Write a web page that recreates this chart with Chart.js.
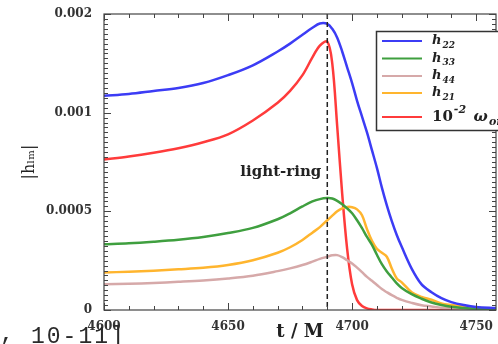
<!DOCTYPE html>
<html>
<head>
<meta charset="utf-8">
<script src="https://cdn.jsdelivr.net/npm/chart.js@4"></script>
<style>
	body { margin: 0; background: #fff; overflow: hidden; }
	canvas { display: block; }
</style>
</head>
<body>
<canvas id="modeChart" width="498" height="344"></canvas>
<script>
	// time grid (t / M) and the mode amplitudes
	var tGrid = [4600, 4610, 4620, 4630, 4640, 4650, 4660, 4670, 4675, 4680, 4684, 4687, 4690, 4692, 4694, 4696, 4698, 4700,
		4702, 4704, 4706, 4708, 4710, 4712, 4714, 4716, 4718, 4720, 4724, 4728, 4732, 4736, 4740, 4745, 4750, 4758];

	var h22 = [0.001086, 0.001095, 0.00111, 0.001125, 0.00115, 0.00119, 0.00124, 0.00131, 0.00135, 0.001395, 0.00143, 0.001452,
		0.00145, 0.001425, 0.00138, 0.00131, 0.00123, 0.00115, 0.00106, 0.00098, 0.0009, 0.00081, 0.00072, 0.00062,
		0.00053, 0.00045, 0.00038, 0.00032, 0.00021, 0.00013, 0.00009, 0.00006, 0.00004, 0.000025, 0.000015, 0.00001];
	var h33 = [0.000333, 0.000338, 0.000346, 0.000356, 0.00037, 0.00039, 0.000416, 0.00046, 0.00049, 0.000525, 0.00055, 0.000562,
		0.000567, 0.000565, 0.000553, 0.000536, 0.000515, 0.00049, 0.000455, 0.000415, 0.00037, 0.00033, 0.00028, 0.000232,
		0.000195, 0.000165, 0.000135, 0.000112, 0.00008, 0.000057, 0.000038, 0.000025, 0.000016, 0.00001, 0.000006, 0.000003];
	var h44 = [0.00013, 0.000133, 0.000137, 0.000143, 0.00015, 0.00016, 0.000174, 0.000197, 0.000211, 0.000228, 0.000245, 0.000259,
		0.00027, 0.000277, 0.000278, 0.000268, 0.000252, 0.000236, 0.000215, 0.000192, 0.000168, 0.000148, 0.000127, 0.000106,
		0.00009, 0.000075, 0.000062, 0.000051, 0.000036, 0.000024, 0.000018, 0.000012, 0.000009, 0.000006, 0.000004, 0.000003];
	var h21 = [0.00019, 0.000194, 0.000199, 0.000206, 0.000214, 0.000228, 0.000252, 0.00029, 0.000318, 0.000355, 0.000392, 0.00042,
		0.000455, 0.000478, 0.0005, 0.000515, 0.000522, 0.000521, 0.00051, 0.00048, 0.00041, 0.00035, 0.00031, 0.00029,
		0.00027, 0.00021, 0.00016, 0.00014, 0.00009, 0.000066, 0.000052, 0.000033, 0.000025, 0.000018, 0.000012, 0.000006];
	var omegaOrb = [0.000763, 0.000778, 0.000797, 0.00082, 0.00085, 0.00089, 0.00096, 0.00105, 0.00111, 0.00119, 0.00128, 0.00134,
		0.00136, 0.00125, 0.00093, 0.00059, 0.00031, 0.00013, 0.00005, 0.00002, 0.000008, 0.000003, 0, 0,
		0, 0, 0, 0, 0, 0, 0, 0, 0, 0, 0, 0];

	var seriesLabels = ["h_22", "h_33", "h_44", "h_21", "10^-2 ω_orb"];
	var seriesColors = ["#3c3cf5", "#3f9f3f", "#d6a9a9", "#ffb52e", "#ff3b3b"];

	var xTickValues = [4600, 4650, 4700, 4750];
	var xTickLabels = ["4600", "4650", "4700", "4750"];
	var yTickValues = [0, 0.0005, 0.001, 0.0015];
	var yTickLabels = ["0", "0.0005", "0.001", "0.002"];

	var lightRingT = 4690;
	var lightRingTextY = 0.0007;

	function makePoints(ys){
		var pts = [];
		for(var i=0; i<tGrid.length; i++){
			pts.push({x: tGrid[i], y: ys[i]});
		}
		return pts;
	}

	// frame, inward ticks on all four sides, light-ring marker
	var framePlugin = {
		id: "frame",
		afterDatasetsDraw: function(chart){
			var ctx = chart.ctx;
			var a = chart.chartArea;
			var xs = chart.scales.x, ys = chart.scales.y;
			ctx.save();

			// dashed light-ring line
			var lx = xs.getPixelForValue(lightRingT);
			ctx.strokeStyle = "#222";
			ctx.lineWidth = 1.5;
			ctx.setLineDash([5, 3]);
			ctx.beginPath();
			ctx.moveTo(lx, a.top);
			ctx.lineTo(lx, a.bottom);
			ctx.stroke();
			ctx.setLineDash([]);

			ctx.fillStyle = "#222";
			ctx.font = "bold 15px 'DejaVu Serif'";
			ctx.textAlign = "right";
			ctx.textBaseline = "middle";
			ctx.fillText("light-ring", lx - 6, ys.getPixelForValue(lightRingTextY));

			ctx.strokeStyle = "#444";
			ctx.lineWidth = 1.2;
			ctx.strokeRect(a.left, a.top, a.right - a.left, a.bottom - a.top);

			ctx.lineWidth = 1;
			ctx.beginPath();
			for(var t=4600; t<=xs.max; t+=10){
				var px = Math.round(xs.getPixelForValue(t)) + 0.5;
				var len = (t % 50 == 0) ? 7 : 4;
				ctx.moveTo(px, a.bottom); ctx.lineTo(px, a.bottom - len);
				ctx.moveTo(px, a.top); ctx.lineTo(px, a.top + len);
			}
			for(var k=0; k<=60; k++){
				var py = Math.round(ys.getPixelForValue(k * 0.000025)) + 0.5;
				var l2 = (k % 20 == 0) ? 7 : 4;
				ctx.moveTo(a.left, py); ctx.lineTo(a.left + l2, py);
				ctx.moveTo(a.right, py); ctx.lineTo(a.right - l2, py);
			}
			ctx.stroke();
			ctx.restore();
		}
	};

	// text with sub/superscripts: "h_22", "10^-2"
	function drawRich(ctx, label, x, y, size){
		var parts = label.split(" ");
		for(var i=0; i<parts.length; i++){
			var p = parts[i];
			var base = p, sub = "", sup = "";
			if(p.indexOf("_") >= 0){ base = p.split("_")[0]; sub = p.split("_")[1]; }
			if(p.indexOf("^") >= 0){ base = p.split("^")[0]; sup = p.split("^")[1]; }
			var isNum = /^[0-9]/.test(base);
			ctx.font = (isNum ? "bold " : "bold italic ") + size + "px 'DejaVu Serif'";
			ctx.fillText(base, x, y);
			x += ctx.measureText(base).width;
			ctx.font = "bold italic " + Math.round(size * 0.7) + "px 'DejaVu Serif'";
			if(sub){
				ctx.fillText(sub, x + 1, y + size * 0.35);
				x += ctx.measureText(sub).width + 1;
			}
			if(sup){
				ctx.fillText(sup, x + 1, y - size * 0.45);
				x += ctx.measureText(sup).width + 1;
			}
			x += size * 0.5;
		}
	}

	var legendPlugin = {
		id: "richLegend",
		afterDraw: function(chart){
			var ctx = chart.ctx;
			var rows = [41, 58.5, 76, 93, 117];
			ctx.save();
			ctx.fillStyle = "#fff";
			ctx.fillRect(376, 31, 130, 99);
			ctx.strokeStyle = "#333";
			ctx.lineWidth = 1.5;
			ctx.strokeRect(376.5, 31.5, 130, 99);
			chart.data.datasets.forEach(function(ds, i){
				ctx.strokeStyle = ds.borderColor;
				ctx.lineWidth = 2;
				ctx.beginPath();
				ctx.moveTo(382, rows[i]);
				ctx.lineTo(422, rows[i]);
				ctx.stroke();
				ctx.fillStyle = "#222";
				ctx.textBaseline = "middle";
				ctx.textAlign = "left";
				drawRich(ctx, ds.label, 432, rows[i], i == 4 ? 15 : 13);
			});

			// cropped caption text at bottom-left of the scan
			ctx.fillStyle = "#2a2a2a";
			ctx.font = "23px 'Liberation Mono'";
			ctx.textBaseline = "alphabetic";
			ctx.fillText(",", 0, 341);
			ctx.letterSpacing = "2px";
			ctx.fillText("10-11]", 31, 343);
			ctx.restore();
		}
	};

	var datasets = [];
	var allSeries = [h22, h33, h44, h21, omegaOrb];
	for(var i=0; i<allSeries.length; i++){
		datasets.push({
			label: seriesLabels[i],
			data: makePoints(allSeries[i]),
			borderColor: seriesColors[i],
			backgroundColor: seriesColors[i],
			borderWidth: 2.5,
			pointRadius: 0,
			fill: false,
			tension: 0.35
		});
	}

	var tickFont = { family: "'DejaVu Serif'", size: 12, weight: "bold" };

	var myChart = new Chart(document.getElementById("modeChart"), {
		type: "line",
		data: { datasets: datasets },
		options: {
			responsive: false,
			animation: false,
			layout: { padding: { top: 14, right: 2, left: 0, bottom: 0 } },
			plugins: { legend: { display: false }, tooltip: { enabled: false } },
			scales: {
				x: {
					type: "linear",
					min: 4600,
					max: 4758,
					grid: { display: false },
					border: { display: false },
					afterBuildTicks: function(s){ s.ticks = xTickValues.map(function(v){ return {value: v}; }); },
					afterFit: function(s){ s.height = 34; },
					ticks: {
						color: "#333",
						font: tickFont,
						padding: 2,
						maxRotation: 0,
						callback: function(v, idx){ return xTickLabels[idx]; }
					},
					title: {
						display: true,
						text: "t / M",
						color: "#222",
						font: { family: "'DejaVu Serif'", size: 18, weight: "bold" },
						padding: { top: 0, bottom: 1 }
					}
				},
				y: {
					type: "linear",
					min: 0,
					max: 0.0015,
					grid: { display: false },
					border: { display: false },
					afterBuildTicks: function(s){ s.ticks = yTickValues.map(function(v){ return {value: v}; }); },
					afterFit: function(s){ s.width = 104; },
					ticks: {
						color: "#333",
						font: tickFont,
						padding: 4,
						callback: function(v, idx){ return yTickLabels[idx]; }
					},
					title: {
						display: true,
						text: "|hₗₘ|",
						color: "#222",
						font: { family: "'DejaVu Serif'", size: 16 },
						padding: { top: 20, bottom: 0 }
					}
				}
			}
		},
		plugins: [framePlugin, legendPlugin]
	});
</script>
</body>
</html>
